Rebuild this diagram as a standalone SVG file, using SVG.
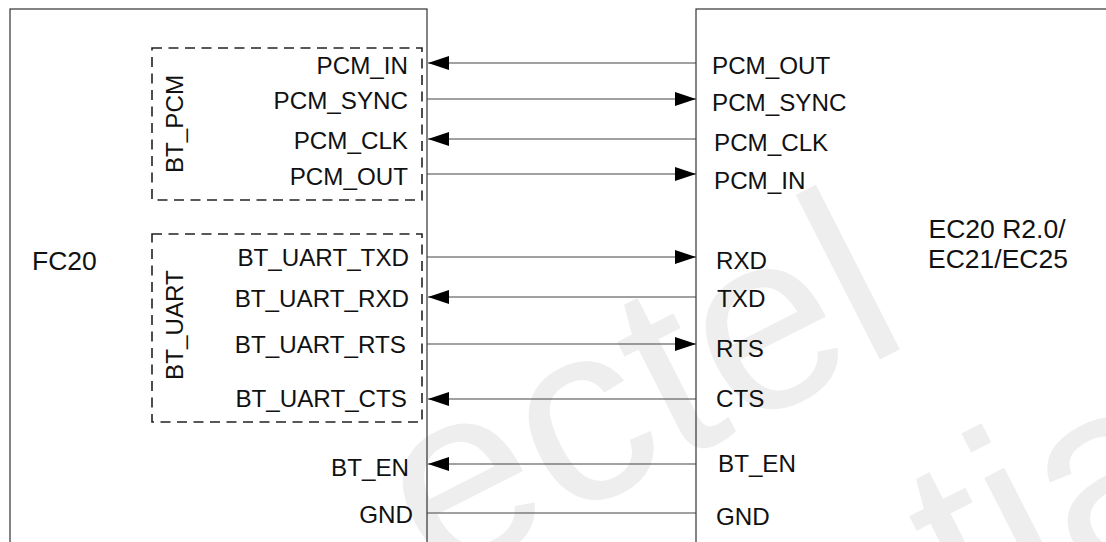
<svg xmlns="http://www.w3.org/2000/svg" width="1106" height="542" viewBox="0 0 1106 542">
<style>
.lbl{font-family:"Liberation Sans",Arial,sans-serif;font-size:24.2px;fill:#111}
.big{font-size:26.5px}
.end{text-anchor:end}
.mid{text-anchor:middle}
.box{fill:none;stroke:#333;stroke-width:1.2}
.dash{fill:none;stroke:#222;stroke-width:1.6;stroke-dasharray:10 6.5}
.wire{stroke:#444;stroke-width:1.2;fill:none}
.wm{font-family:"Liberation Sans",Arial,sans-serif;font-size:255px;fill:#eeeeee}
</style>
<defs>
<marker id="ah" markerUnits="userSpaceOnUse" markerWidth="21" markerHeight="14" refX="21" refY="7" orient="auto">
<path d="M0,0 L21,7 L0,14 z" fill="#000"/>
</marker>
</defs>
<rect width="1106" height="542" fill="#fff"/>
<g id="watermark">
<text class="wm" transform="translate(435,586) rotate(-27)">ectel</text>
<text class="wm" transform="translate(967,638) rotate(-27)">tia</text>
</g>
<g id="fc20">
<rect class="box" x="10" y="9" width="417" height="600"/>
<text class="lbl big" x="32" y="270">FC20</text>
<text class="lbl end" x="408" y="74">PCM_IN</text>
<text class="lbl end" x="408" y="109">PCM_SYNC</text>
<text class="lbl end" x="408" y="149">PCM_CLK</text>
<text class="lbl end" x="408" y="185">PCM_OUT</text>
<text class="lbl end" x="409" y="266">BT_UART_TXD</text>
<text class="lbl end" x="409" y="307">BT_UART_RXD</text>
<text class="lbl end" x="406" y="353">BT_UART_RTS</text>
<text class="lbl end" x="407" y="407">BT_UART_CTS</text>
<text class="lbl end" x="409" y="476">BT_EN</text>
<text class="lbl end" x="413" y="523">GND</text>
</g>
<g id="bt_pcm">
<rect class="dash" x="152" y="48" width="270" height="152"/>
<text class="lbl mid" transform="translate(183,124) rotate(-90)">BT_PCM</text>
</g>
<g id="bt_uart">
<rect class="dash" x="152" y="234" width="270" height="188"/>
<text class="lbl mid" transform="translate(183,325) rotate(-90)">BT_UART</text>
</g>
<g id="ec20">
<rect class="box" x="696" y="9" width="500" height="600"/>
<text class="lbl big mid" x="997" y="238">EC20 R2.0/</text>
<text class="lbl big mid" x="998" y="268">EC21/EC25</text>
<text class="lbl" x="712" y="74">PCM_OUT</text>
<text class="lbl" x="712" y="111">PCM_SYNC</text>
<text class="lbl" x="714" y="151">PCM_CLK</text>
<text class="lbl" x="714" y="189">PCM_IN</text>
<text class="lbl" x="716" y="269">RXD</text>
<text class="lbl" x="717" y="307">TXD</text>
<text class="lbl" x="716" y="357">RTS</text>
<text class="lbl" x="716" y="407">CTS</text>
<text class="lbl" x="718" y="472">BT_EN</text>
<text class="lbl" x="716" y="525">GND</text>
</g>
<g id="connectors">
<line class="wire" x1="696" y1="63" x2="428" y2="63" marker-end="url(#ah)"/>
<line class="wire" x1="427" y1="99" x2="696" y2="99" marker-end="url(#ah)"/>
<line class="wire" x1="696" y1="139" x2="428" y2="139" marker-end="url(#ah)"/>
<line class="wire" x1="427" y1="174" x2="696" y2="174" marker-end="url(#ah)"/>
<line class="wire" x1="427" y1="257" x2="696" y2="257" marker-end="url(#ah)"/>
<line class="wire" x1="696" y1="297" x2="428" y2="297" marker-end="url(#ah)"/>
<line class="wire" x1="427" y1="344" x2="696" y2="344" marker-end="url(#ah)"/>
<line class="wire" x1="696" y1="399" x2="428" y2="399" marker-end="url(#ah)"/>
<line class="wire" x1="696" y1="464" x2="428" y2="464" marker-end="url(#ah)"/>
<line class="wire" x1="427" y1="513" x2="696" y2="513"/>
</g>
</svg>
